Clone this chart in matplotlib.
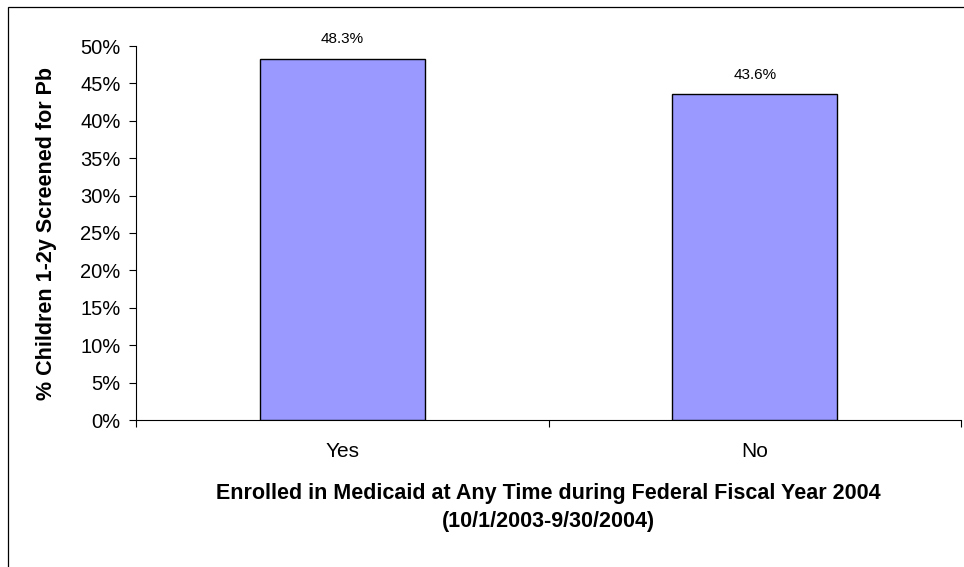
import matplotlib
matplotlib.use("Agg")
import matplotlib.pyplot as plt
from matplotlib.patches import Rectangle
from matplotlib.ticker import FixedLocator

categories = ["Yes", "No"]
values = [48.3, 43.6]
value_labels = ["48.3%", "43.6%"]
yticks = [0, 5, 10, 15, 20, 25, 30, 35, 40, 45, 50]
ytick_labels = ["0%", "5%", "10%", "15%", "20%", "25%", "30%", "35%", "40%", "45%", "50%"]
ylabel = "% Children 1-2y Screened for Pb"
xlabel_1 = "Enrolled in Medicaid at Any Time during Federal Fiscal Year 2004"
xlabel_2 = "(10/1/2003-9/30/2004)"

plt.rcParams['font.family'] = ['Liberation Sans', 'DejaVu Sans']

W, H = 964, 567
fig = plt.figure(figsize=(W / 100, H / 100), dpi=100)
fig.patch.set_facecolor("white")

ax = fig.add_axes([136 / W, 1 - 420 / H, (961 - 136) / W, (420 - 46) / H])
x = list(range(len(categories)))
ax.bar(x, values, width=0.4, color="#9999FF", edgecolor="black", linewidth=1.0, zorder=3)

for xi, v, lab in zip(x, values, value_labels):
    ax.annotate(lab, (xi, v), xytext=(0, 11), textcoords="offset points",
                ha="center", va="baseline", fontsize=11, color="black")

ax.set_xlim(-0.5, 1.5)
ax.set_ylim(0, 50)
ax.set_yticks(yticks)
ax.set_yticklabels(ytick_labels, fontsize=14.5)
ax.set_xticks(x)
ax.set_xticklabels(categories, fontsize=15)
ax.xaxis.set_minor_locator(FixedLocator([-0.5, 0.5, 1.5]))
ax.tick_params(axis="x", which="major", length=0, pad=16)
ax.tick_params(axis="x", which="minor", length=5, width=0.8, direction="out")
ax.tick_params(axis="y", length=5, width=0.8, direction="out", pad=6)

for s in ["top", "right"]:
    ax.spines[s].set_visible(False)
for s in ["left", "bottom"]:
    ax.spines[s].set_linewidth(0.8)

ax.set_ylabel(ylabel, fontsize=15.5, fontweight="bold")
ax.yaxis.set_label_coords(-(136 - 57) / (961 - 136), 0.5)

cx = (136 + 961) / 2 / W
fig.text(cx, 1 - 494 / H, xlabel_1, ha="center", va="center", fontsize=15.5, fontweight="bold")
fig.text(cx, 1 - 521 / H, xlabel_2, ha="center", va="center", fontsize=15.5, fontweight="bold")

frame = Rectangle((7.5 / W, -0.2), 1.5, 1.2 - 6.5 / H, transform=fig.transFigure,
                  fill=False, edgecolor="black", linewidth=0.9)
fig.patches.append(frame)

fig.savefig("out.png", dpi=100)
